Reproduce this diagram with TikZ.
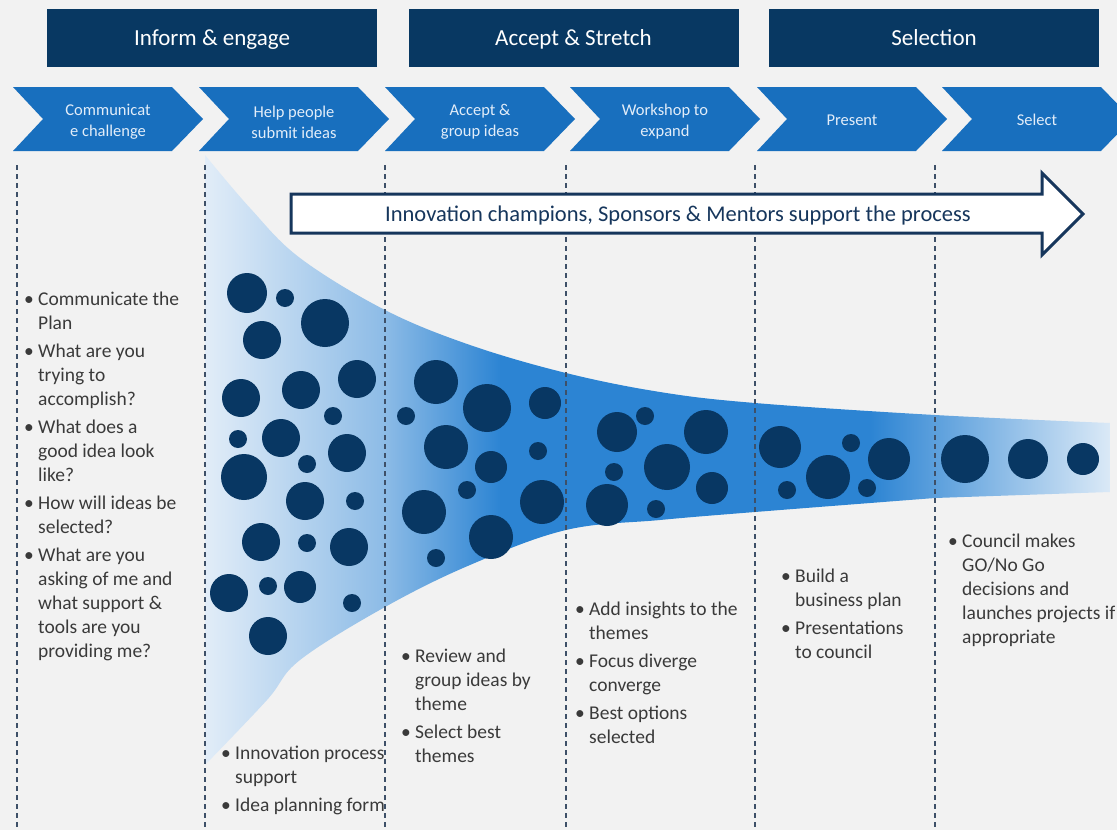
\documentclass[tikz,border=0pt]{standalone}
\usepackage{fontspec}
\setmainfont{Carlito}
\usepackage{array}
\definecolor{bg}{RGB}{242,242,242}
\definecolor{navy}{RGB}{8,56,98}
\definecolor{chev}{RGB}{24,111,190}
\definecolor{chevtxt}{RGB}{226,237,249}
\definecolor{dot}{RGB}{8,55,99}
\definecolor{vline}{RGB}{62,80,104}
\definecolor{txt}{RGB}{58,58,58}
\definecolor{arrline}{RGB}{22,54,92}
\definecolor{fA}{RGB}{226,237,248}
\definecolor{fB}{RGB}{140,187,230}
\definecolor{fC}{RGB}{44,132,211}
\definecolor{fD}{RGB}{220,234,247}
\newcommand{\bltab}[1]{{\fontsize{19.5bp}{24bp}\selectfont\color{txt}\begin{tabular}[t]{@{}p{14bp}@{}l@{}}#1\end{tabular}}}
\newcommand{\bi}{\textbullet}
\begin{document}
\begin{tikzpicture}[x=1bp,y=-1bp,
  header/.style={fill=navy,text=white,minimum width=330bp,minimum height=58bp,inner sep=0pt,text height=15bp,text depth=0bp,font=\fontsize{23bp}{27bp}\selectfont},
  chevbox/.style={fill=chev},
  chevlabel/.style={text=chevtxt,align=center,inner sep=0pt,font=\fontsize{16.5bp}{21bp}\selectfont},
  vdash/.style={draw=vline,line width=1.6bp,dash pattern=on 5bp off 4bp},
  dotc/.style={fill=dot},
  blist/.style={anchor=base west,inner sep=0pt,align=left}]
\useasboundingbox (0,0) rectangle (1117,830);
\fill[bg] (0,0) rectangle (1117,830);

% headers
\node[header] (h1) at (212,38) {Inform \& engage};
\node[header] (h2) at (573.5,38) {Accept \& Stretch};
\node[header] (h3) at (934,38) {Selection};

% chevrons
\foreach \L in {13,199,385,570,757,942}{
  \fill[chevbox] (\L,87) -- (\L+159,87) -- (\L+190,119) -- (\L+159,151) -- (\L,151) -- (\L+30,119) -- cycle;
}
\node[chevlabel] (c1) at (108,122) {Communicat\\e challenge};
\node[chevlabel] (c2) at (294,122) {Help people\\submit ideas};
\node[chevlabel] (c3) at (480,122) {Accept \&\\group ideas};
\node[chevlabel] (c4) at (665,122) {Workshop to\\expand};
\node[chevlabel] (c5) at (852,120) {Present};
\node[chevlabel] (c6) at (1037,120) {Select};

% funnel
\begin{scope}
\clip plot[smooth,tension=0.6] coordinates {(205,155) (250,208) (300,258) (385,310) (470,345) (566,373) (660,392) (755,403) (935,415) (1110,423)}
  -- (1110,492)
  -- plot[smooth,tension=0.6] coordinates {(935,498) (755,512) (660,520) (566,530) (470,565) (385,607) (300,660) (267,700) (205,765)} -- cycle;
\shade[left color=fA,right color=fB] (204,150) rectangle (386,780);
\shade[left color=fB,right color=fC] (385,150) rectangle (501,780);
\fill[fC] (500,150) rectangle (871,780);
\shade[left color=fC,right color=fD] (870,150) rectangle (1112,780);
\end{scope}

% dashed column lines
\foreach \X in {17,205,385,566,755,935}{
  \draw[vdash] (\X,165) -- (\X,830);
}

% support arrow
\draw[fill=white,draw=arrline,line width=3bp,line join=miter] (291,194) -- (1042,194) -- (1042,173) -- (1083,214) -- (1042,255) -- (1042,233) -- (291,233) -- cycle;
\node[text=arrline,inner sep=0pt,font=\fontsize{22.5bp}{26bp}\selectfont] (arr) at (678,215) {Innovation champions, Sponsors \& Mentors support the process};

% idea dots
\foreach \x/\y/\r in {247/293/20,285/298/9,325/323/24,262/340/19,357/379/19,301/390/19,241/398/19,333/416/9,238/439/9,281/438/19,347/453/19,307/464/9,244/477/23,305/501/19,355/501/9,261/542/19,307/543/9,349/547/19,229/593/19,268/586/9,300/587/16,352/603/9,268/636/19,
  436/382/22,487/408/24,545/403/16,406/416/9,446/447/22,538/451/9,491/467/16,467/490/9,424/512/22,542/502/22,491/537/22,436/558/9,
  617/432/20,645/416/9,706/432/22,667/467/23,614/472/9,712/488/16,607/505/21,656/509/9,
  780/447/21,851/443/9,889/459/21,828/477/22,787/490/9,867/488/9,
  965/459/24,1028/459/20,1083/459/16}{
  \fill[dotc] (\x,\y) circle (\r bp);
}

% bullet lists
\node[blist] (b1) at (24,305) {\bltab{\bi & Communicate the\\ & Plan\\[4bp]
 \bi & What are you\\ & trying to\\ & accomplish?\\[4bp]
 \bi & What does a\\ & good idea look\\ & like?\\[4bp]
 \bi & How will ideas be\\ & selected?\\[4bp]
 \bi & What are you\\ & asking of me and\\ & what support \&\\ & tools are you\\ & providing me?}};
\node[blist] (b2) at (221,759) {\bltab{\bi & Innovation process\\ & support\\[4bp]
 \bi & Idea planning form}};
\node[blist] (b3) at (401,662) {\bltab{\bi & Review and\\ & group ideas by\\ & theme\\[4bp]
 \bi & Select best\\ & themes}};
\node[blist] (b4) at (575,615) {\bltab{\bi & Add insights to the\\ & themes\\[4bp]
 \bi & Focus diverge\\ & converge\\[4bp]
 \bi & Best options\\ & selected}};
\node[blist] (b5) at (781,582) {\bltab{\bi & Build a\\ & business plan\\[4bp]
 \bi & Presentations\\ & to council}};
\node[blist] (b6) at (948,547) {\bltab{\bi & Council makes\\ & GO/No Go\\ & decisions and\\ & launches projects if\\ & appropriate}};
\end{tikzpicture}
\end{document}
